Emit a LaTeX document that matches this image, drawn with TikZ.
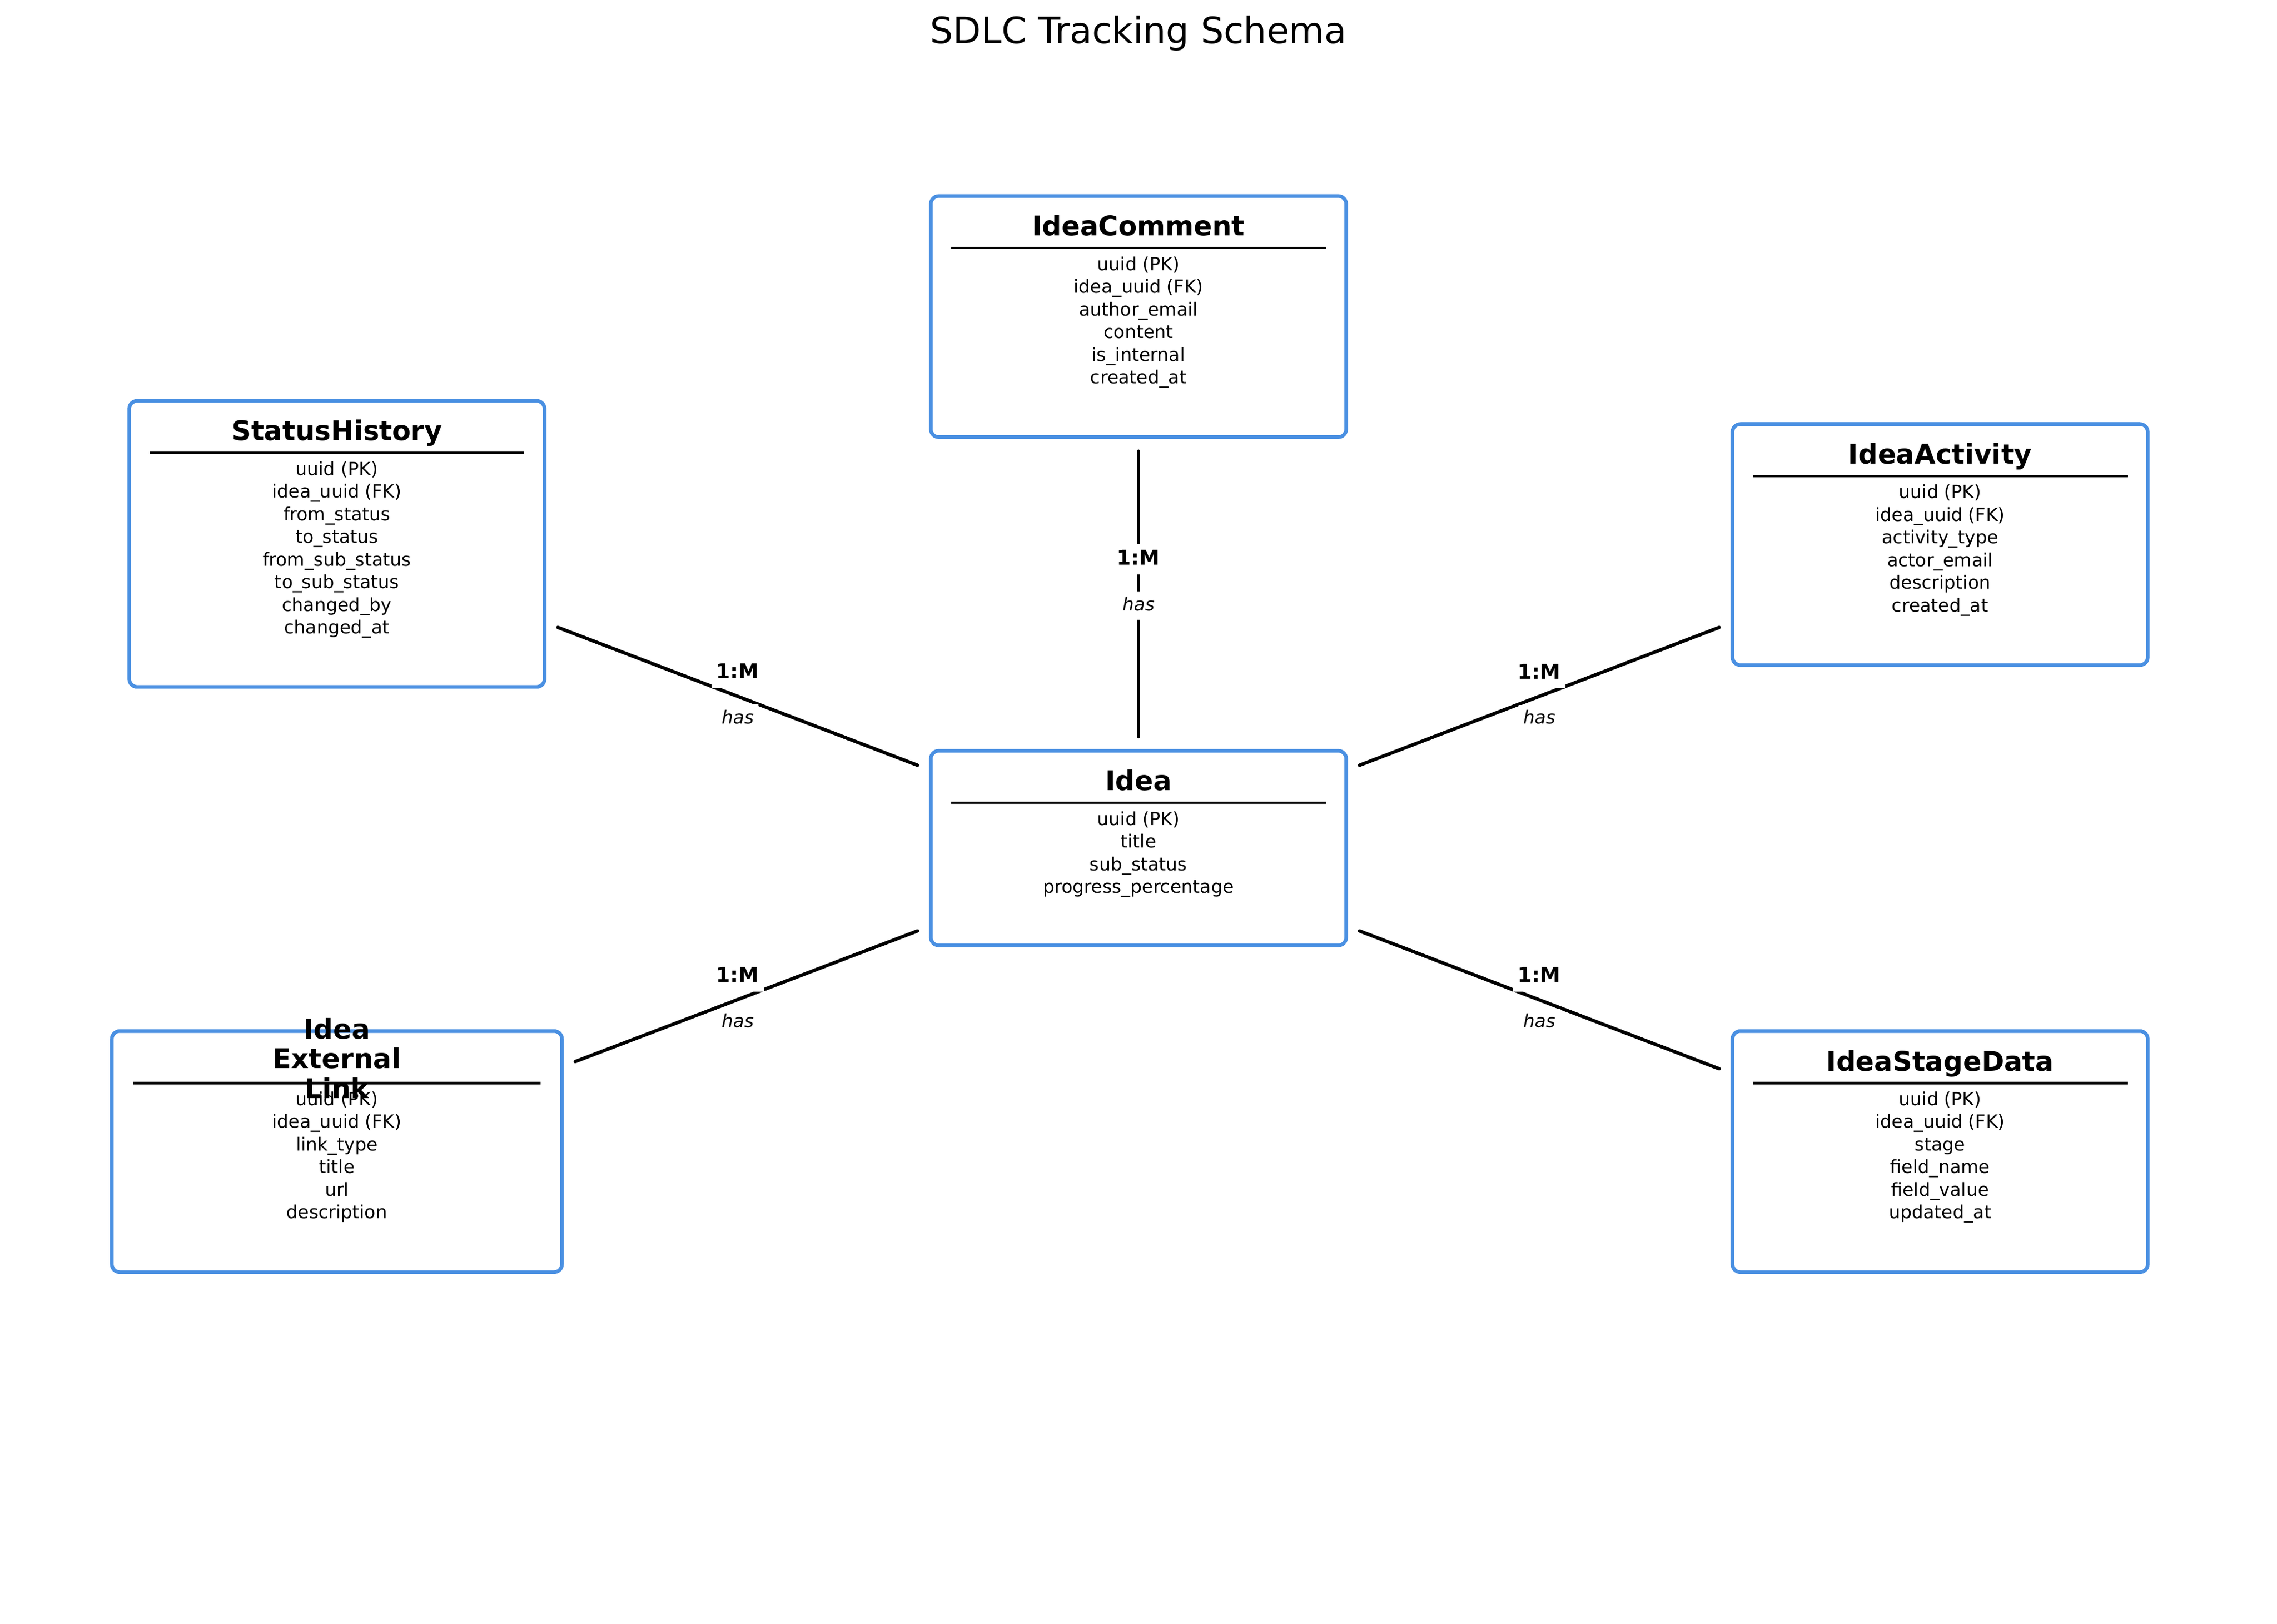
\documentclass[tikz,border=0pt]{standalone}
\usepackage{fontspec}
\setmainfont{DejaVu Sans}
\usetikzlibrary{positioning,calc}
\definecolor{boxblue}{HTML}{4A90E2}

\begin{document}
\begin{tikzpicture}[x=0.22517mm, y=-0.22517mm,
  entity/.style={draw=boxblue, line width=1.6pt, rounded corners=3.5pt, fill=white, inner sep=0pt},
  entname/.style={font=\fontsize{12}{13.1}\selectfont\bfseries, align=center, inner sep=0pt, text depth=0pt},
  fields/.style={font=\fontsize{8}{10}\selectfont, align=center, inner sep=0pt, anchor=north},
  sepline/.style={line width=1pt},
  rel/.style={line width=1.5pt, line cap=round, shorten >=1.9mm, shorten <=1.9mm},
  card/.style={font=\fontsize{9}{10}\selectfont\bfseries, fill=white, inner sep=2.2pt, text height=7pt, text depth=2pt},
  verb/.style={font=\fontsize{8}{9}\selectfont\itshape, fill=white, inner sep=2.2pt, text height=6.2pt, text depth=1.8pt}]

  \useasboundingbox (0,0) rectangle (1568,1118);

  \node[font=\fontsize{16}{19}\selectfont] (title) at (784,23) {SDLC Tracking Schema};

  % IdeaComment
  \node[entity, minimum width=64.4mm, minimum height=37.38mm] (comment) at (784,218) {};
  \node[entname] (commentname) at ([yshift=-4.85mm]comment.north) {IdeaComment};
  \draw[sepline] ([xshift=3.4mm,yshift=-8.35mm]comment.north west) -- ([xshift=-3.4mm,yshift=-8.35mm]comment.north east);
  \node[fields] (commentfields) at ([yshift=-9.6mm]comment.north)
    {uuid (PK)\\idea\_uuid (FK)\\author\_email\\content\\is\_internal\\created\_at};

  % StatusHistory
  \node[entity, minimum width=64.4mm, minimum height=44.36mm] (status) at (232,374.5) {};
  \node[entname] (statusname) at ([yshift=-4.85mm]status.north) {StatusHistory};
  \draw[sepline] ([xshift=3.4mm,yshift=-8.35mm]status.north west) -- ([xshift=-3.4mm,yshift=-8.35mm]status.north east);
  \node[fields] (statusfields) at ([yshift=-9.6mm]status.north)
    {uuid (PK)\\idea\_uuid (FK)\\from\_status\\to\_status\\from\_sub\_status\\to\_sub\_status\\changed\_by\\changed\_at};

  % IdeaActivity
  \node[entity, minimum width=64.4mm, minimum height=37.38mm] (activity) at (1336,375) {};
  \node[entname] (activityname) at ([yshift=-4.85mm]activity.north) {IdeaActivity};
  \draw[sepline] ([xshift=3.4mm,yshift=-8.35mm]activity.north west) -- ([xshift=-3.4mm,yshift=-8.35mm]activity.north east);
  \node[fields] (activityfields) at ([yshift=-9.6mm]activity.north)
    {uuid (PK)\\idea\_uuid (FK)\\activity\_type\\actor\_email\\description\\created\_at};

  % Idea
  \node[entity, minimum width=64.4mm, minimum height=30.17mm] (idea) at (784,584) {};
  \node[entname] (ideaname) at ([yshift=-4.85mm]idea.north) {Idea};
  \draw[sepline] ([xshift=3.4mm,yshift=-8.35mm]idea.north west) -- ([xshift=-3.4mm,yshift=-8.35mm]idea.north east);
  \node[fields] (ideafields) at ([yshift=-9.6mm]idea.north)
    {uuid (PK)\\title\\sub\_status\\progress\_percentage};

  % IdeaExternalLink
  \node[entity, minimum width=69.8mm, minimum height=37.38mm] (extlink) at (232,793) {};
  \draw[sepline] ([xshift=3.6mm,yshift=-8.35mm]extlink.north west) -- ([xshift=-3.6mm,yshift=-8.35mm]extlink.north east);
  \node[fields] (extlinkfields) at ([yshift=-9.6mm]extlink.north)
    {uuid (PK)\\idea\_uuid (FK)\\link\_type\\title\\url\\description};
  \node[entname] (extlinkname) at ([yshift=-4.5mm]extlink.north) {Idea\\External\\Link};

  % IdeaStageData
  \node[entity, minimum width=64.4mm, minimum height=37.38mm] (stage) at (1336,793) {};
  \node[entname] (stagename) at ([yshift=-4.85mm]stage.north) {IdeaStageData};
  \draw[sepline] ([xshift=3.4mm,yshift=-8.35mm]stage.north west) -- ([xshift=-3.4mm,yshift=-8.35mm]stage.north east);
  \node[fields] (stagefields) at ([yshift=-9.6mm]stage.north)
    {uuid (PK)\\idea\_uuid (FK)\\stage\\field\_name\\field\_value\\updated\_at};

  % Relations
  \draw[rel] (comment.south) -- (idea.north);
  \draw[rel] ([yshift=-12.27mm]status.east) -- ([yshift=12.16mm]idea.west);
  \draw[rel] ([yshift=-12.16mm]activity.west) -- ([yshift=12.16mm]idea.east);
  \draw[rel] ([yshift=13.28mm]extlink.east) -- ([yshift=-12.16mm]idea.west);
  \draw[rel] ([yshift=12.16mm]stage.west) -- ([yshift=-12.16mm]idea.east);

  % Relation labels, halfway between the centres
  \node[card] (card1) at ([yshift=3.6mm]$(comment)!0.5!(idea)$) {1:M};
  \node[verb] (verb1) at ([yshift=-3.6mm]$(comment)!0.5!(idea)$) {has};
  \node[card] (card2) at ([yshift=3.6mm]$(status)!0.5!(idea)$) {1:M};
  \node[verb] (verb2) at ([yshift=-3.5mm]$(status)!0.5!(idea)$) {has};
  \node[card] (card3) at ([yshift=3.6mm]$(activity)!0.5!(idea)$) {1:M};
  \node[verb] (verb3) at ([yshift=-3.5mm]$(activity)!0.5!(idea)$) {has};
  \node[card] (card4) at ([yshift=3.6mm]$(extlink)!0.5!(idea)$) {1:M};
  \node[verb] (verb4) at ([yshift=-3.5mm]$(extlink)!0.5!(idea)$) {has};
  \node[card] (card5) at ([yshift=3.6mm]$(stage)!0.5!(idea)$) {1:M};
  \node[verb] (verb5) at ([yshift=-3.5mm]$(stage)!0.5!(idea)$) {has};
\end{tikzpicture}
\end{document}
